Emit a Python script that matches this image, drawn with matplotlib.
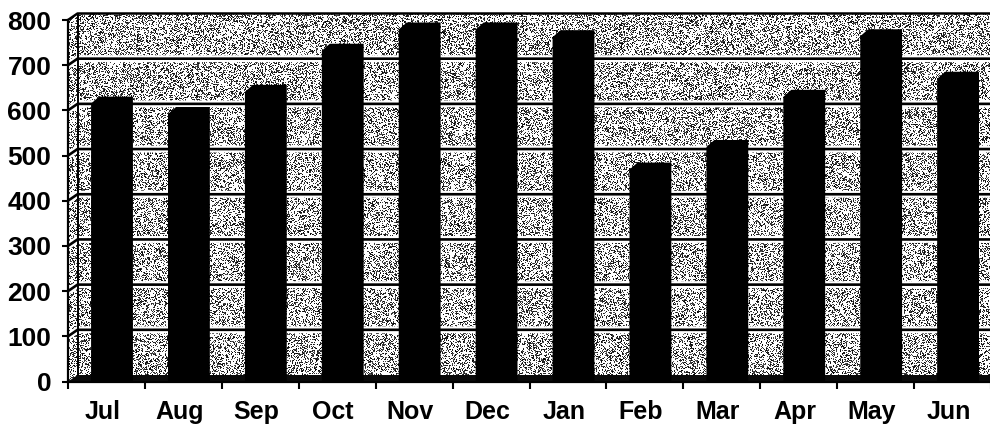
import numpy as np
import matplotlib
matplotlib.use("Agg")
import matplotlib.pyplot as plt
from matplotlib.patches import Polygon
import matplotlib.patheffects as pe

# Monthly values, financial year Jul-Jun
months = ['Jul', 'Aug', 'Sep', 'Oct', 'Nov', 'Dec',
          'Jan', 'Feb', 'Mar', 'Apr', 'May', 'Jun']
values = [615, 592, 641, 732, 779, 779, 762, 469, 519, 630, 764, 670]
yticks = list(range(0, 801, 100))

plt.rcParams['font.family'] = ['Liberation Sans', 'DejaVu Sans']
plt.rcParams['font.weight'] = 'bold'

W, H = 990, 425
fig = plt.figure(figsize=(W / 100, H / 100), dpi=100)

# axes box in pixels (front plane of the 3D frame)
x_left, x_right = 68, 991
y_bottom, y_top = 381.5, 20
ax = fig.add_axes([x_left / W, 1 - y_bottom / H,
                   (x_right - x_left) / W, (y_bottom - y_top) / H])
ax.set_zorder(2)
ax.set_xlim(0, 12)
ax.set_ylim(0, 800)
ax.patch.set_visible(False)

# pixel -> data unit conversion for depth offsets
px_x = 12 / (x_right - x_left)
px_y = 800 / (y_bottom - y_top)
WDX, WDY = 9.5 * px_x, 6.5 * px_y   # wall depth
BDX, BDY = 8 * px_x, 7 * px_y       # bar depth

# stippled fill for the walls
rng = np.random.default_rng(3)
dots = rng.random((H, W)) < 0.36
shade = np.where(dots, 0.35 * rng.random((H, W)), 1.0)
im = fig.figimage(shade, cmap='gray', vmin=0, vmax=1, origin='upper', zorder=0)
n = len(months)
wall = Polygon([(0, 0), (0, 800), (WDX, 800 + WDY), (n + WDX, 800 + WDY),
                (n + WDX, WDY), (n, 0)], closed=True, transform=ax.transData)
im.set_clip_path(wall)

# floor
ax.fill([0, n, n + WDX, WDX], [0, 0, WDY, WDY], color='#0a0a0a',
        lw=0, clip_on=False, zorder=1)

# gridlines on the side and back walls
halo = [pe.withStroke(linewidth=5, foreground='white')]
for v in yticks[1:-1]:
    ax.plot([0, WDX, n + WDX], [v, v + WDY, v + WDY], color='black', lw=1.9,
            path_effects=halo, clip_on=False, zorder=2, solid_capstyle='butt')
ax.plot([0, WDX, n + WDX], [800, 800 + WDY, 800 + WDY], color='black', lw=1.8,
        clip_on=False, zorder=2)
ax.plot([WDX, WDX], [WDY, 800 + WDY], color='black', lw=1.4,
        clip_on=False, zorder=2)

# columns: front face plus top and right side, all black
bar_off, bar_w = 0.30, 0.44
for k, v in enumerate(values):
    x0 = k + bar_off
    ax.fill([x0, x0, x0 + BDX, x0 + bar_w + BDX, x0 + bar_w + BDX, x0 + bar_w],
            [0, v, v + BDY, v + BDY, 0, 0],
            color='black', lw=0, clip_on=False, zorder=3)

for side in ['top', 'right']:
    ax.spines[side].set_visible(False)
for side in ['left', 'bottom']:
    ax.spines[side].set_linewidth(1.6)
    ax.spines[side].set_zorder(4)

ax.set_yticks(yticks)
ax.tick_params(axis='y', length=4, width=1.5, pad=8, labelsize=19)

ax.set_xticks(range(n + 1))
ax.set_xticklabels([])
ax.set_xticks(np.arange(n) + 0.5 - 4 * px_x, minor=True)
ax.set_xticklabels(months, minor=True)
ax.tick_params(axis='x', which='major', length=5, width=1.5, direction='out')
ax.tick_params(axis='x', which='minor', length=0, pad=13, labelsize=18)

fig.savefig('out.png', dpi=100)
